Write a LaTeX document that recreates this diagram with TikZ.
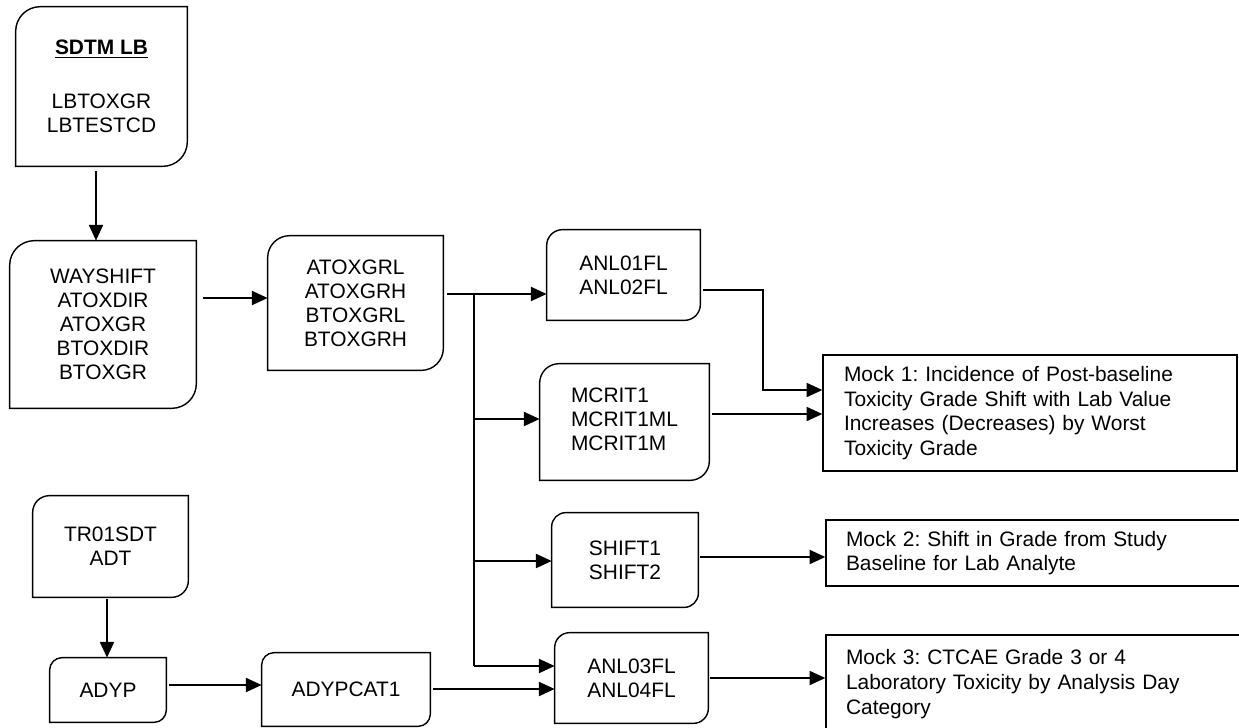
\documentclass[tikz,border=0pt]{standalone}
\usepackage{fontspec}
\setmainfont{Liberation Sans}
\usetikzlibrary{arrows.meta}
\frenchspacing
\newcommand\flowbox[2]{%
  \draw[boxline] ([yshift=-#2]#1.north west) arc[start angle=180,end angle=90,radius=#2]
    -- (#1.north east) -- ([yshift=#2]#1.south east) arc[start angle=0,end angle=-90,radius=#2]
    -- (#1.south west) -- cycle;}
\begin{document}
\begin{tikzpicture}[x=0.02cm,y=-0.02cm,
  boxline/.style={line width=0.8pt},
  fbox/.style={draw=none,inner sep=0pt,align=center,font=\fontsize{11.9pt}{13.7pt}\selectfont},
  mockbox/.style={draw,line width=0.8pt,inner ysep=0pt,align=left,font=\fontsize{11.9pt}{14pt}\selectfont},
  conn/.style={line width=1.1pt},
  arr/.style={conn,-{Triangle[length=9pt,width=8pt]}}]
\useasboundingbox (0,0) rectangle (1239,727);
% nodes
\node[fbox,minimum width=3.42cm,minimum height=3.18cm] (sdtm) at (101.5,86.5)
  {\underline{\textbf{SDTM LB}}\\[3pt] ~\\ LBTOXGR\\ LBTESTCD};
\node[fbox,minimum width=3.72cm,minimum height=3.34cm] (way) at (103,324.5)
  {WAYSHIFT\\ ATOXDIR\\ ATOXGR\\ BTOXDIR\\ BTOXGR};
\node[fbox,minimum width=3.5cm,minimum height=2.68cm] (atox) at (355.5,303)
  {ATOXGRL\\ ATOXGRH\\ BTOXGRL\\ BTOXGRH};
\node[fbox,minimum width=3.06cm,minimum height=1.8cm] (anl01) at (623.5,275)
  {ANL01FL\\ ANL02FL};
\node[fbox,minimum width=3.38cm,minimum height=2.32cm] (mcrit) at (624.5,422)
  {\begin{tabular}{@{}l@{}}MCRIT1\\ MCRIT1ML\\ MCRIT1M\end{tabular}};
\node[fbox,minimum width=2.92cm,minimum height=1.88cm] (shift) at (625,560)
  {SHIFT1\\ SHIFT2};
\node[fbox,minimum width=3.06cm,minimum height=1.8cm] (anl03) at (631.5,678)
  {ANL03FL\\ ANL04FL};
\node[fbox,minimum width=3.1cm,minimum height=2.02cm] (tr01) at (110.5,546.5)
  {TR01SDT\\ ADT};
\node[fbox,minimum width=2.32cm,minimum height=1.28cm] (adyp) at (108,690)
  {ADYP};
\node[fbox,minimum width=3.36cm,minimum height=1.46cm] (adypcat) at (346,689.5)
  {ADYPCAT1};
\node[mockbox,inner xsep=0.42cm,text width=7.44cm,minimum height=2.32cm] (mock1) at (1030,413)
  {Mock 1: Incidence of Post-baseline\\ Toxicity Grade Shift with Lab Value\\ Increases (Decreases) by Worst\\ Toxicity Grade};
\node[mockbox,inner xsep=0.4cm,text width=7.72cm,minimum height=1.32cm] (mock2) at (1039,553)
  {Mock 2: Shift in Grade from Study\\ Baseline for Lab Analyte};
\node[mockbox,inner xsep=0.4cm,text width=7.72cm,minimum height=1.96cm] (mock3) at (1039,684)
  {Mock 3: CTCAE Grade 3 or 4\\ Laboratory Toxicity by Analysis Day\\ Category};
% outlines
\flowbox{sdtm}{14pt}
\flowbox{way}{14pt}
\flowbox{atox}{12.5pt}
\flowbox{anl01}{9pt}
\flowbox{mcrit}{11pt}
\flowbox{shift}{8pt}
\flowbox{anl03}{8.5pt}
\flowbox{tr01}{9.5pt}
\flowbox{adyp}{7pt}
\flowbox{adypcat}{7pt}
% helper coordinates
\coordinate (v96) at (96,0);
\coordinate (v107) at (107,0);
\coordinate (v474) at (474,0);
\coordinate (v763) at (763,0);
\coordinate (h298) at (0,298);
\coordinate (h294) at (0,294);
\coordinate (h419) at (0,419);
\coordinate (h561) at (0,561);
\coordinate (h666) at (0,666);
\coordinate (h290) at (0,290);
\coordinate (h390) at (0,390);
\coordinate (h414) at (0,414);
\coordinate (h557) at (0,557);
\coordinate (h678) at (0,678);
\coordinate (h685) at (0,685);
\coordinate (h689) at (0,689);
% connectors
\draw[arr,shorten <=0.1cm] (v96 |- sdtm.south) -- (v96 |- way.north);
\draw[arr,shorten <=0.14cm] (way.east |- h298) -- (atox.west |- h298);
\draw[arr,shorten <=0.08cm] (atox.east |- h294) -- (anl01.west |- h294);
\draw[conn] (v474 |- h294) -- (v474 |- h666);
\draw[arr] (v474 |- h419) -- (mcrit.west |- h419);
\draw[arr] (v474 |- h561) -- (shift.west |- h561);
\draw[arr] (v474 |- h666) -- (anl03.west |- h666);
\draw[arr,shorten <=0.06cm] (anl01.east |- h290) -- (v763 |- h290) -- (v763 |- h390) -- (mock1.west |- h390);
\draw[arr,shorten <=0.06cm] (mcrit.east |- h414) -- (mock1.west |- h414);
\draw[arr,shorten <=0.04cm] (shift.east |- h557) -- (mock2.west |- h557);
\draw[arr,shorten <=0.04cm] (anl03.east |- h678) -- (mock3.west |- h678);
\draw[arr,shorten <=0.04cm] (v107 |- tr01.south) -- (v107 |- adyp.north);
\draw[arr,shorten <=0.06cm] (adyp.east |- h685) -- (adypcat.west |- h685);
\draw[arr,shorten <=0.06cm] (adypcat.east |- h689) -- (anl03.west |- h689);
\end{tikzpicture}
\end{document}
